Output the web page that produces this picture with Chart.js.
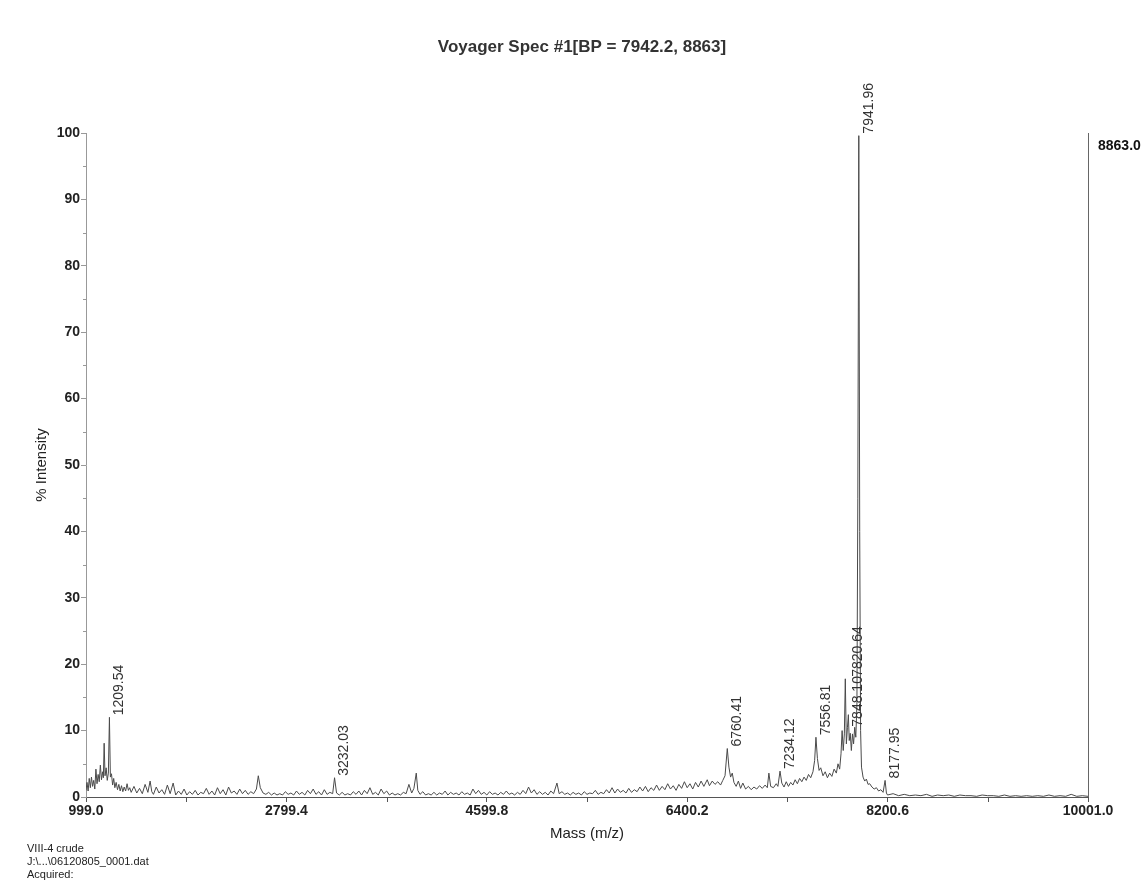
<!DOCTYPE html>
<html>
<head>
<meta charset="utf-8">
<script src="https://cdn.jsdelivr.net/npm/chart.js@4.4.1/dist/chart.umd.min.js"></script>
<style>
html,body{margin:0;padding:0;background:#fff;}
#wrap{width:1142px;height:880px;position:relative;}
canvas{display:block;}
</style>
</head>
<body>
<div id="wrap"><canvas id="c" width="1142" height="880"></canvas></div>
<script>
// ---- Data (m/z, % intensity) ----
const lowMassRegion = [
  [999,1.0],[1008,2.2],[1018,0.9],[1028,2.8],[1038,1.4],[1048,3.0],[1058,1.6],[1068,2.5],[1078,1.2],[1088,4.2],
  [1098,2.0],[1108,3.4],[1118,2.3],[1128,4.8],[1138,2.6],[1148,3.8],[1155,2.9],[1162,8.1],[1170,3.2],[1180,4.4],
  [1190,2.5],[1200,3.6],[1209.54,12.0],[1218,3.0],[1228,3.5],[1238,1.8],[1248,2.8],[1258,1.4],[1270,2.2],[1282,1.1],
  [1294,1.9],[1306,0.9],[1318,1.7],[1330,0.8],[1342,1.5],[1355,0.9],[1368,2.0],[1380,1.0],[1392,1.4]
];
const region1400to3000 = [
  [1405,0.7],[1430,1.6],[1455,0.6],[1480,1.3],[1505,0.5],[1530,1.9],[1555,0.7],[1575,2.4],[1590,0.8],[1605,0.4],
  [1630,1.5],[1655,0.6],[1680,1.1],[1705,0.4],[1730,1.8],[1755,0.5],[1782,2.1],[1805,0.3],[1830,0.9],[1855,0.4],
  [1880,1.2],[1905,0.3],[1930,0.8],[1955,0.4],[1980,1.0],[2005,0.3],[2030,0.7],[2055,0.5],[2080,1.3],[2105,0.4],
  [2130,0.9],[2155,0.3],[2180,1.4],[2205,0.5],[2230,1.1],[2255,0.3],[2280,1.5],[2305,0.6],[2330,0.9],[2355,0.4],
  [2380,1.2],[2405,0.5],[2430,1.0],[2455,0.4],[2480,0.8],[2505,0.5],[2530,1.2],[2547,3.2],[2565,1.4],[2590,0.6],
  [2615,0.4],[2640,0.7],[2665,0.3],[2690,0.6],[2715,0.3],[2740,0.5],[2765,0.3],[2790,0.8],[2815,0.4],[2840,0.6],
  [2865,0.3],[2890,0.9],[2915,0.4],[2940,0.7],[2965,0.3],[2990,1.0]
];
const region3000to6000 = [
  [3015,0.5],[3040,1.2],[3065,0.4],[3090,0.8],[3115,0.3],[3140,1.1],[3165,0.4],[3190,0.7],[3215,0.5],[3232.03,2.9],
  [3250,0.6],[3275,0.3],[3300,0.7],[3325,0.3],[3350,0.5],[3375,0.3],[3400,0.8],[3425,0.4],[3450,0.9],[3475,0.3],
  [3500,1.0],[3525,0.5],[3550,1.4],[3575,0.4],[3600,0.7],[3625,0.3],[3650,1.2],[3675,0.5],[3700,0.9],[3725,0.3],
  [3750,0.6],[3775,0.3],[3800,0.5],[3825,0.3],[3850,0.7],[3875,0.5],[3900,1.9],[3925,0.6],[3945,1.3],[3966,3.6],
  [3980,1.0],[4000,0.4],[4025,0.8],[4050,0.3],[4075,0.5],[4100,0.3],[4125,0.7],[4150,0.3],[4175,0.6],[4200,0.4],
  [4225,0.9],[4250,0.3],[4275,0.7],[4300,0.4],[4325,0.6],[4350,0.3],[4375,0.8],[4400,0.4],[4425,0.6],[4450,0.3],
  [4475,1.2],[4500,0.5],[4525,1.0],[4550,0.4],[4575,0.7],[4600,0.3],[4625,0.8],[4650,0.4],[4675,0.6],[4700,0.3],
  [4725,0.7],[4750,0.4],[4775,0.9],[4800,0.4],[4825,0.6],[4850,0.3],[4875,0.7],[4900,0.4],[4925,1.0],[4950,0.5],
  [4975,1.5],[5000,0.6],[5025,1.1],[5050,0.4],[5075,0.8],[5100,0.4],[5125,0.7],[5150,0.3],[5175,0.9],[5200,0.5],
  [5230,2.1],[5250,0.5],[5275,0.8],[5300,0.4],[5325,0.6],[5350,0.3],[5375,0.7],[5400,0.4],[5425,0.6],[5450,0.3],
  [5475,0.8],[5500,0.4],[5525,0.6],[5550,0.5],[5575,1.0],[5600,0.4],[5625,0.7],[5650,0.5],[5675,1.1],[5700,0.6],
  [5725,1.4],[5750,0.6],[5775,1.2],[5800,0.7],[5825,1.0],[5850,0.6],[5875,1.3],[5900,0.7],[5925,1.1],[5950,0.8],
  [5975,1.5]
];
const region6000to7750 = [
  [6000,0.9],[6025,1.6],[6050,0.8],[6075,1.4],[6100,1.0],[6125,1.8],[6150,1.0],[6175,1.6],[6200,1.1],[6225,2.0],
  [6250,1.2],[6275,1.7],[6300,1.0],[6325,1.9],[6350,1.3],[6375,2.3],[6400,1.4],[6425,2.0],[6450,1.2],[6475,2.2],
  [6500,1.5],[6525,2.4],[6550,1.6],[6580,2.6],[6600,1.7],[6625,2.4],[6650,1.9],[6675,2.3],[6700,1.8],[6720,2.5],
  [6740,3.2],[6760.41,7.3],[6775,4.5],[6790,3.0],[6805,3.6],[6820,2.2],[6840,1.6],[6860,2.4],[6880,1.3],[6900,2.1],
  [6925,1.2],[6950,1.6],[6975,1.1],[7000,1.5],[7025,1.2],[7050,1.7],[7075,1.3],[7100,1.8],[7120,1.4],[7134,3.6],
  [7150,1.6],[7175,1.4],[7200,2.0],[7215,1.6],[7234.12,3.9],[7250,2.1],[7270,1.5],[7290,2.3],[7310,1.6],[7330,2.2],
  [7350,1.8],[7370,2.6],[7390,2.0],[7410,2.8],[7430,2.3],[7450,3.0],[7470,2.5],[7490,3.4],[7510,2.9],[7530,3.8],
  [7545,5.5],[7556.81,9.0],[7570,5.8],[7585,4.0],[7600,4.4],[7620,3.2],[7640,3.8],[7660,2.9],[7680,3.6],[7700,3.1],
  [7720,4.2],[7740,3.6]
];
const mainPeakCluster = [
  [7755,5.0],[7770,4.2],[7782,6.5],[7792,10.0],[7802,7.0],[7812,9.5],[7820.64,17.8],[7830,8.0],[7840,10.5],[7848.10,12.4],
  [7856,8.5],[7865,9.6],[7875,7.0],[7885,9.5],[7895,8.0],[7905,10.5],[7915,9.0],[7925,14.0],[7933,45.0],[7941.96,99.6],
  [7950,40.0],[7958,10.0],[7966,4.5],[7980,3.0],[7995,2.4],[8010,2.7],[8025,1.9],[8040,2.0],[8060,1.5],[8080,1.2],
  [8100,1.4],[8120,0.9],[8140,1.1],[8160,0.7],[8177.95,2.5],[8190,0.6]
];
const highMassRegion = [
  [8200,0.3],[8250,0.5],[8300,0.2],[8350,0.4],[8400,0.2],[8450,0.3],[8500,0.2],[8550,0.4],[8600,0.1],[8650,0.3],
  [8700,0.2],[8750,0.3],[8800,0.1],[8850,0.3],[8900,0.2],[8950,0.2],[9000,0.1],[9050,0.3],[9100,0.2],[9150,0.2],
  [9200,0.1],[9250,0.3],[9300,0.1],[9350,0.2],[9400,0.1],[9450,0.2],[9500,0.1],[9550,0.2],[9600,0.1],[9650,0.3],
  [9700,0.1],[9750,0.2],[9800,0.1],[9850,0.4],[9900,0.1],[9950,0.2],[10001,0.1]
];
const peakLabels = ['1209.54','3232.03','6760.41','7234.12','7556.81','7820.64','7848.10','7941.96','8177.95'];
const xTickValues = [999.0, 2799.4, 4599.8, 6400.2, 8200.6, 10001.0];
const yTickValues = [0,10,20,30,40,50,60,70,80,90,100];
const titleText = 'Voyager Spec #1[BP = 7942.2, 8863]';
const xAxisTitle = 'Mass (m/z)';
const yAxisTitle = '% Intensity';
const maxIntensityLabel = '8863.0';
const footnoteLines = ['VIII-4 crude', 'J:\\...\\06120805_0001.dat', 'Acquired:'];

// ---- Build ----
const spectrum = [].concat(lowMassRegion, region1400to3000, region3000to6000,
  region6000to7750, mainPeakCluster, highMassRegion).map(([x, y]) => ({x, y}));

const FONT = "'Liberation Sans', Arial, Helvetica, sans-serif";
const labelNudge = {'7820.64': [3, 0], '7848.10': [0, 14]};

const annotPlugin = {
  id: 'annot',
  afterDatasetsDraw(chart) {
    const {ctx, chartArea: a, scales: {x, y}} = chart;
    ctx.save();
    // right frame line
    ctx.strokeStyle = '#666'; ctx.lineWidth = 1;
    ctx.beginPath(); ctx.moveTo(Math.round(a.right) + 0.5, a.top); ctx.lineTo(Math.round(a.right) + 0.5, a.bottom); ctx.stroke();
    // minor y ticks
    ctx.strokeStyle = '#999';
    for (let i = 0; i < yTickValues.length - 1; i++) {
      const v = (yTickValues[i] + yTickValues[i + 1]) / 2;
      const py = Math.round(y.getPixelForValue(v)) + 0.5;
      ctx.beginPath(); ctx.moveTo(a.left - 3, py); ctx.lineTo(a.left, py); ctx.stroke();
    }
    // minor x ticks
    ctx.strokeStyle = '#555';
    for (let i = 0; i < xTickValues.length - 1; i++) {
      const v = (xTickValues[i] + xTickValues[i + 1]) / 2;
      const px = Math.round(x.getPixelForValue(v)) + 0.5;
      ctx.beginPath(); ctx.moveTo(px, a.bottom); ctx.lineTo(px, a.bottom + 5); ctx.stroke();
    }
    // peak labels
    ctx.fillStyle = '#333';
    ctx.font = '14px ' + FONT;
    ctx.textAlign = 'left';
    ctx.textBaseline = 'top';
    peakLabels.forEach(lbl => {
      const m = parseFloat(lbl);
      const pt = spectrum.find(p => Math.abs(p.x - m) < 0.001);
      if (!pt) return;
      const n = labelNudge[lbl] || [0, 0];
      const px = x.getPixelForValue(pt.x) + 3 + n[0];
      const py = y.getPixelForValue(pt.y) - 2 + n[1];
      ctx.save();
      ctx.translate(px, py);
      ctx.rotate(-Math.PI / 2);
      ctx.fillText(lbl, 0, 0);
      ctx.restore();
    });
    ctx.restore();
  },
  afterDraw(chart) {
    const {ctx, chartArea: a} = chart;
    ctx.save();
    ctx.fillStyle = '#333';
    ctx.textBaseline = 'middle';
    // title
    ctx.font = 'bold 17px ' + FONT;
    ctx.textAlign = 'center';
    ctx.fillText(titleText, 582, 47);
    // x axis title
    ctx.fillStyle = '#222';
    ctx.font = '15px ' + FONT;
    ctx.fillText(xAxisTitle, (a.left + a.right) / 2, 834);
    // y axis title
    ctx.save();
    ctx.translate(42, (a.top + a.bottom) / 2);
    ctx.rotate(-Math.PI / 2);
    ctx.fillText(yAxisTitle, 0, 0);
    ctx.restore();
    // max intensity label
    ctx.font = 'bold 14px ' + FONT;
    ctx.textAlign = 'left';
    ctx.fillStyle = '#111';
    ctx.fillText(maxIntensityLabel, a.right + 10, 146);
    // footnote
    ctx.font = '11px ' + FONT;
    ctx.fillStyle = '#222';
    footnoteLines.forEach((t, i) => ctx.fillText(t, 27, 849 + i * 13));
    ctx.restore();
  }
};

new Chart(document.getElementById('c'), {
  type: 'line',
  data: {
    datasets: [{
      data: spectrum,
      borderColor: '#4a4a4a',
      borderWidth: 1,
      pointRadius: 0,
      tension: 0,
      fill: false
    }]
  },
  options: {
    responsive: false,
    animation: false,
    devicePixelRatio: 1,
    parsing: true,
    layout: {padding: {left: 0, right: 54, top: 133, bottom: 0}},
    plugins: {legend: {display: false}, tooltip: {enabled: false}, title: {display: false}},
    scales: {
      x: {
        type: 'linear', min: 999, max: 10001,
        afterBuildTicks: s => { s.ticks = xTickValues.map(v => ({value: v})); },
        afterFit: s => { s.height = 83; },
        ticks: {
          callback: v => Number(v).toFixed(1),
          font: {family: FONT, size: 14, weight: 'bold'}, color: '#222',
          padding: 1, maxRotation: 0, autoSkip: false
        },
        grid: {drawOnChartArea: false, drawTicks: true, tickLength: 5, color: '#555'},
        border: {display: true, color: '#555'}
      },
      y: {
        type: 'linear', min: 0, max: 100,
        afterBuildTicks: s => { s.ticks = yTickValues.map(v => ({value: v})); },
        afterFit: s => { s.width = 86; },
        ticks: {
          font: {family: FONT, size: 14, weight: 'bold'}, color: '#222', padding: 1
        },
        grid: {drawOnChartArea: false, drawTicks: true, tickLength: 5, color: '#999'},
        border: {display: true, color: '#999'}
      }
    }
  },
  plugins: [annotPlugin]
});
</script>
</body>
</html>
